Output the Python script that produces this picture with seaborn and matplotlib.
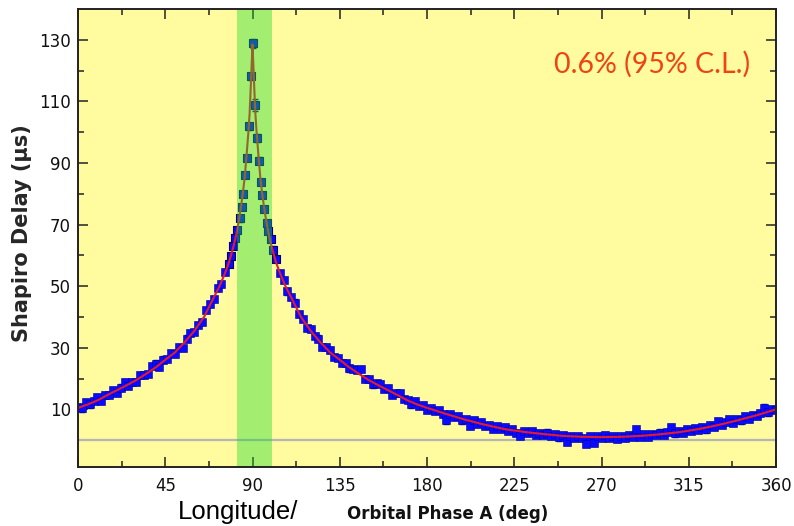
import numpy as np
import pandas as pd
import matplotlib
matplotlib.use("Agg")
import matplotlib.pyplot as plt
import seaborn as sns
from matplotlib.ticker import FixedLocator

# ---------------- data ----------------
phase_left = [0, 2, 4, 6, 8, 10, 12, 14, 16, 18, 20, 22, 24, 26, 28, 30, 32, 34, 36, 38,
              40, 42, 44, 46, 48, 50, 52, 54, 56, 58, 60, 62, 64, 66, 68, 70, 72, 74, 76]
delay_left = [10.9, 10.3, 12.3, 11.6, 12.6, 14.0, 12.8, 14.8, 14.7, 16.3, 15.2, 17.1, 18.9, 17.6,
              18.9, 18.8, 21.1, 21.3, 21.5, 24.0, 24.9, 23.7, 26.2, 26.5, 28.4, 27.9, 30.1, 29.9,
              33.0, 34.8, 35.2, 37.4, 38.3, 42.3, 44.3, 45.9, 49.4, 50.8, 54.7]

phase_peak = [77.9, 78.9, 80.1, 81.0, 82.2, 83.6, 84.4, 85.3, 86.2, 87.0, 88.4, 89.1, 90.4,
              91.5, 92.5, 93.5, 94.3, 95.1, 96.1, 97.4, 98.2, 99.4, 100.8, 102.2]
delay_peak = [57.1, 59.7, 63.0, 65.7, 68.1, 72.0, 75.7, 80.0, 86.0, 91.6, 101.9, 118.1, 128.9,
              108.9, 98.1, 90.8, 83.7, 79.7, 75.2, 70.6, 67.8, 65.2, 61.9, 58.7]
err_peak = [1.0, 1.0, 1.0, 1.0, 1.0, 1.0, 1.0, 1.0, 1.0, 1.0, 1.2, 1.2, 1.5,
            2.0, 1.2, 1.0, 1.0, 1.0, 1.0, 1.0, 1.0, 1.0, 1.0, 1.0]

phase_right = list(range(104, 361, 2))
delay_right = [54.2, 52.1, 48.3, 46.5, 44.7, 40.9, 39.4, 36.5, 36.2, 33.8, 33.0, 30.2, 30.2, 29.3,
               26.9, 26.7, 25.1, 25.2, 23.3, 23.2, 22.8, 23.1, 19.9, 19.8, 18.1, 18.6, 18.3, 16.6,
               16.8, 14.7, 15.3, 15.3, 13.3, 13.1, 11.6, 12.6, 11.0, 11.4, 9.9, 10.4, 9.5, 9.9,
               8.4, 6.4, 8.5, 7.4, 7.9, 6.4, 6.8, 4.5, 6.4, 5.3, 5.9, 4.5, 5.0, 3.7, 4.6, 3.7,
               4.2, 3.0, 3.5, 2.4, 1.4, 3.1, 2.3, 2.9, 1.8, 2.3, 1.6, 2.5, 1.4, 2.0, 0.9, 1.7,
               -0.5, 1.5, 0.7, 1.5, 0.8, -1.2, 1.5, -0.9, 1.3, 0.6, 1.6, 0.8, 1.4, 0.5, 1.4, 0.8,
               1.7, 1.1, 3.6, 1.1, 2.0, 1.0, 2.0, 1.6, 2.5, 1.6, 2.7, 4.2, 2.2, 3.0, 2.3, 3.6,
               3.0, 3.9, 3.2, 4.2, 3.5, 4.9, 4.3, 6.3, 4.8, 5.8, 6.8, 5.6, 6.8, 6.4, 7.7, 7.0,
               8.3, 7.8, 8.9, 10.6, 9.0, 10.1, 9.7]
err_dense = 1.0

fit_phase = [0, 5, 10, 15, 20, 25, 30, 35, 40, 45, 50, 55, 60, 65, 70, 73, 76, 78, 80, 81, 82,
             83, 84, 85, 86, 87, 88, 88.5, 89, 89.5, 90, 90.5, 91, 91.5, 92, 93, 94, 95, 96, 97,
             98, 99, 100, 102, 104, 107, 110, 115, 120, 125, 130, 135, 140, 145, 150, 155, 160,
             165, 170, 175, 180, 190, 200, 210, 220, 230, 240, 250, 260, 270, 280, 290, 300,
             310, 320, 330, 340, 350, 360]
fit_delay = [10.5, 11.6, 12.9, 14.6, 16.2, 17.8, 19.5, 21.5, 23.6, 26.1, 28.5, 31.8, 35.5, 40.0,
             46.3, 50.0, 54.5, 58.0, 62.5, 65.0, 68.0, 71.5, 75.5, 80.0, 85.5, 93.0, 101.0, 106.0,
             113.0, 121.0, 128.5, 121.0, 113.0, 106.0, 101.0, 93.0, 85.5, 80.0, 75.5, 71.5, 68.0,
             65.0, 62.5, 58.0, 54.5, 50.0, 46.3, 40.0, 35.5, 31.8, 28.5, 26.1, 23.6, 21.5, 19.5,
             17.8, 16.2, 14.6, 12.9, 11.6, 10.5, 8.5, 6.6, 5.0, 3.6, 2.7, 2.0, 1.4, 1.1, 1.0, 1.1,
             1.4, 1.9, 2.6, 3.6, 4.9, 6.4, 8.1, 10.0]

band_range = [82, 100]
x_major = [0, 45, 90, 135, 180, 225, 270, 315, 360]
y_major = [10, 30, 50, 70, 90, 110, 130]
annotation = "0.6% (95% C.L.)"
ylabel = "Shapiro Delay (\u03bcs)"
xlabel_a = "Longitude/"
xlabel_b = "Orbital Phase A (deg)"

# ---------------- figure ----------------
sns.set_style("ticks")
plt.rcParams['font.family'] = ['DejaVu Sans']

fig = plt.figure(figsize=(7.94, 5.26), dpi=100)
ax = fig.add_axes([78 / 794, 1 - 467 / 526, (776 - 78) / 794, (467 - 9) / 526])
ax.set_facecolor('#fffb9e')

dense = pd.DataFrame({
    'phase': phase_left + phase_right,
    'delay': delay_left + delay_right,
})
peak = pd.DataFrame({'phase': phase_peak, 'delay': delay_peak, 'err': err_peak})
fit = pd.DataFrame({'phase': fit_phase, 'delay': fit_delay})

ax.axhline(0, color='#b5b5b5', lw=1.6, zorder=1)

ax.errorbar(dense['phase'], dense['delay'], yerr=err_dense, fmt='none',
            ecolor='#0000b0', elinewidth=1.0, capsize=2.2, zorder=2)
ax.errorbar(peak['phase'], peak['delay'], yerr=peak['err'], fmt='none',
            ecolor='#10106a', elinewidth=1.0, capsize=2.5, zorder=2)

sns.scatterplot(data=dense, x='phase', y='delay', ax=ax, marker='s', s=40,
                color='#0a0aff', edgecolor='#0000a0', linewidth=0.4, zorder=3, legend=False)
sns.scatterplot(data=peak, x='phase', y='delay', ax=ax, marker='s', s=34,
                color='#0a0aff', edgecolor='#000070', linewidth=0.8, zorder=3, legend=False)

sns.lineplot(data=fit, x='phase', y='delay', ax=ax, color='#e41a2e', lw=1.5,
             zorder=4, legend=False)

ax.axvspan(band_range[0], band_range[1], color='#19da2b', alpha=0.4, lw=0, zorder=5)

ax.set_xlim(0, 360)
ax.set_ylim(-8.7, 140)
ax.xaxis.set_major_locator(FixedLocator(x_major))
ax.xaxis.set_minor_locator(FixedLocator([22.5 + 45 * i for i in range(8)]))
ax.yaxis.set_major_locator(FixedLocator(y_major))
ax.yaxis.set_minor_locator(FixedLocator([0, 20, 40, 60, 80, 100, 120]))
ax.tick_params(which='both', direction='in', top=True, right=True, color='#222222',
               width=1.1, labelsize=12, labelcolor='#111111')
ax.tick_params(which='major', length=7)
ax.tick_params(which='minor', length=4.5)
ax.tick_params(axis='x', pad=7)
ax.tick_params(axis='y', pad=5)
for sp in ax.spines.values():
    sp.set_linewidth(1.4)
    sp.set_color('#222222')
    sp.set_zorder(6)

ax.set_xlabel('')
ax.set_ylabel(ylabel, fontsize=15, fontweight='bold')
ax.yaxis.set_label_coords(-0.066, 0.51)

ax.text(0.963, 0.88, annotation, transform=ax.transAxes, ha='right', va='center',
        fontsize=20.5, color='#ee4414', family=['Lato', 'DejaVu Sans'], zorder=7)

fig.text(178 / 794, 1 - 519 / 526, xlabel_a, fontsize=18.5, family=['Liberation Sans'],
         ha='left', va='baseline', color='#000000')
fig.text(548 / 794, 1 - 519 / 526, xlabel_b, fontsize=12, fontweight='bold',
         family=['DejaVu Sans'], ha='right', va='baseline', color='#111111')

fig.savefig('out.png', dpi=100, facecolor='white')
